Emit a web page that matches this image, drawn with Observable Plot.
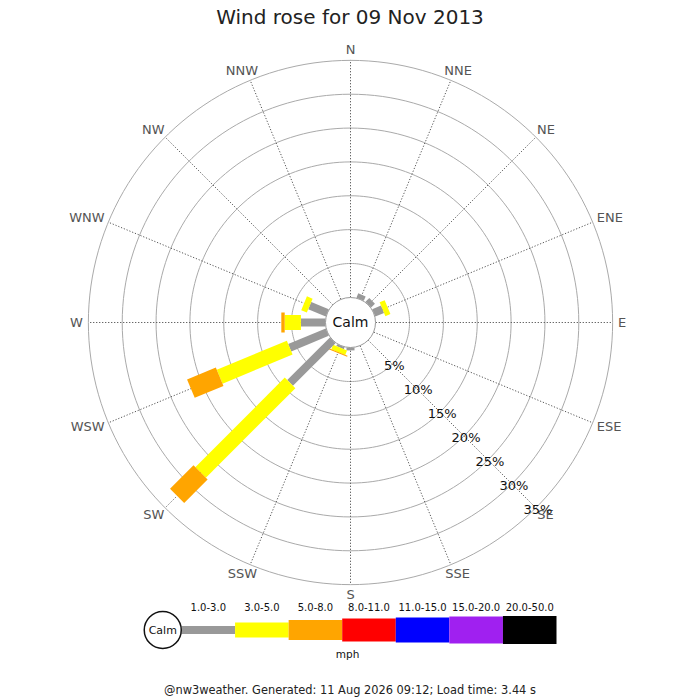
<!DOCTYPE html>
<html>
<head>
<meta charset="utf-8">
<script src="https://cdn.jsdelivr.net/npm/d3@7"></script>
<script src="https://cdn.jsdelivr.net/npm/@observablehq/plot@0.6"></script>
<style>
  body { margin: 0; background: #fff; overflow: hidden; font-family: "DejaVu Sans", sans-serif; }
  #title { height: 36px; line-height: 34px; text-align: center; font-size: 20px; color: #222; }
  #legend { margin-top: -16px; position: relative; }
  #footer { height: 28px; line-height: 36px; text-align: center; font-size: 11.4px; color: #222; }
</style>
</head>
<body>
<div id="title">Wind rose for 09 Nov 2013</div>
<div id="rose"></div>
<div id="legend"></div>
<div id="footer">@nw3weather. Generated: 11 Aug 2026 09:12; Load time: 3.44 s</div>
<script>
// 16 compass points, clockwise from N
const directions = ["N", "NNE", "NE", "ENE", "E", "ESE", "SE", "SSE",
                    "S", "SSW", "SW", "WSW", "W", "WNW", "NW", "NNW"];
const speedBins = ["1.0-3.0", "3.0-5.0", "5.0-8.0", "8.0-11.0", "11.0-15.0", "15.0-20.0", "20.0-50.0"];

// % of the day per direction, one array per speed bin (mph)
const pct1to3 = [0, 0.7, 0.8, 1.4, 0, 0, 0, 0, 0.4, 0.3, 8.9, 6.0, 3.6, 2.8, 0, 0];
const pct3to5 = [0, 0, 0, 0.8, 0, 0, 0, 0, 0, 0.7, 18.7, 11.2, 2.4, 0.9, 0, 0];
const pct5to8 = [0, 0, 0, 0, 0, 0, 0, 0, 0, 0.15, 4.9, 4.6, 0.5, 0, 0, 0];
const pctEmpty = directions.map(() => 0);
const binPcts = [pct1to3, pct3to5, pct5to8, pctEmpty, pctEmpty, pctEmpty, pctEmpty];

const ringTicks = [5, 10, 15, 20, 25, 30, 35];

// styles
const binColors = ["#999999", "#ffff00", "#ffa500", "#ff0000", "#0000ff", "#a020f0", "#000000"];
const binWidths = [8, 15, 20, 23, 25, 27, 28];
const k = 6.77;      // px per percent
const hole = 3.72;   // calm circle radius, in percent units
const font = "DejaVu Sans, sans-serif";

const rad = a => a * Math.PI / 180;
const px = (r, a) => r * Math.sin(rad(a));
const py = (r, a) => r * Math.cos(rad(a));

// label width in px, so compass labels sit just outside the ring
const ctx = document.createElement("canvas").getContext("2d");
ctx.font = "13px 'DejaVu Sans'";
const textW = s => ctx.measureText(s).width;

// stacked segments
const segs = [];
directions.forEach((dir, i) => {
  let acc = 0;
  binPcts.forEach((arr, b) => {
    const v = arr[i];
    if (v > 0) {
      segs.push({dir, angle: i * 22.5, bin: b, r0: hole + acc, r1: hole + acc + v});
      acc += v;
    }
  });
});

const spokes = directions.map((d, i) => ({dir: d, angle: i * 22.5}));
const rings = ringTicks.flatMap(p => d3.range(0, 361, 2).map(a => ({p, x: px(hole + p, a), y: py(hole + p, a)})));
const outer = hole + d3.max(ringTicks);
const labelR = outer + 0.8;

const H = 580;
const rose = Plot.plot({
  width: 700,
  height: H,
  margin: 0,
  x: {domain: [-350 / k, 350 / k], axis: null},
  y: {domain: [-(H - 286) / k, 286 / k], axis: null},
  color: {type: "identity"},
  style: {fontFamily: font, background: "white"},
  marks: [
    Plot.line(rings, {x: "x", y: "y", z: "p", stroke: "#aaa", strokeWidth: 1}),
    Plot.link(spokes, {
      x1: d => px(hole, d.angle), y1: d => py(hole, d.angle),
      x2: d => px(outer, d.angle), y2: d => py(outer, d.angle),
      stroke: "#555", strokeWidth: 1, strokeDasharray: "1.2,1.8"
    }),
    Plot.link(segs, {
      x1: d => px(d.r0, d.angle), y1: d => py(d.r0, d.angle),
      x2: d => px(d.r1, d.angle), y2: d => py(d.r1, d.angle),
      stroke: d => binColors[d.bin], strokeWidth: d => binWidths[d.bin], strokeLinecap: "butt"
    }),
    Plot.dot([0], {x: 0, y: 0, r: 25, fill: "white", stroke: "#999", strokeWidth: 1}),
    Plot.text(["Calm"], {x: 0, y: 0, text: d => d, fontSize: 14, fill: "#111"}),
    Plot.text(spokes, {
      x: d => px(labelR, d.angle) + Math.sin(rad(d.angle)) * textW(d.dir) / 2 / k,
      y: d => py(labelR, d.angle) + Math.cos(rad(d.angle)) * 5 / k,
      text: "dir", fontSize: 13, fill: "#555"
    }),
    Plot.text(ringTicks, {
      x: d => px(hole + d, 135), y: d => py(hole + d, 135),
      text: d => d + "%", fontSize: 13, fill: "#111", dx: 2, dy: 2
    })
  ]
});
document.getElementById("rose").append(rose);

const legend = Plot.plot({
  width: 700,
  height: 72,
  margin: 0,
  x: {domain: [0, 7], range: [181, 556], axis: null},
  y: {domain: [0, 72], range: [0, 72], axis: null},
  color: {type: "identity"},
  style: {fontFamily: font, background: "transparent"},
  marks: [
    Plot.link(speedBins, {
      x1: (d, i) => i, x2: (d, i) => i + 1, y1: 29.5, y2: 29.5,
      stroke: (d, i) => binColors[i], strokeWidth: (d, i) => binWidths[i], strokeLinecap: "butt"
    }),
    Plot.text(speedBins, {x: (d, i) => i + 0.5, y: 7, text: d => d, fontSize: 10, fill: "#111"}),
    Plot.dot(["Calm"], {x: -0.35, y: 29.5, r: 18.5, fill: "white", stroke: "#111"}),
    Plot.text(["Calm"], {x: -0.35, y: 29.5, text: d => d, fontSize: 11, fill: "#111"}),
    Plot.text(["mph"], {x: 3.1, y: 54, text: d => d, fontSize: 10.5, fill: "#111"})
  ]
});
document.getElementById("legend").append(legend);
</script>
</body>
</html>
